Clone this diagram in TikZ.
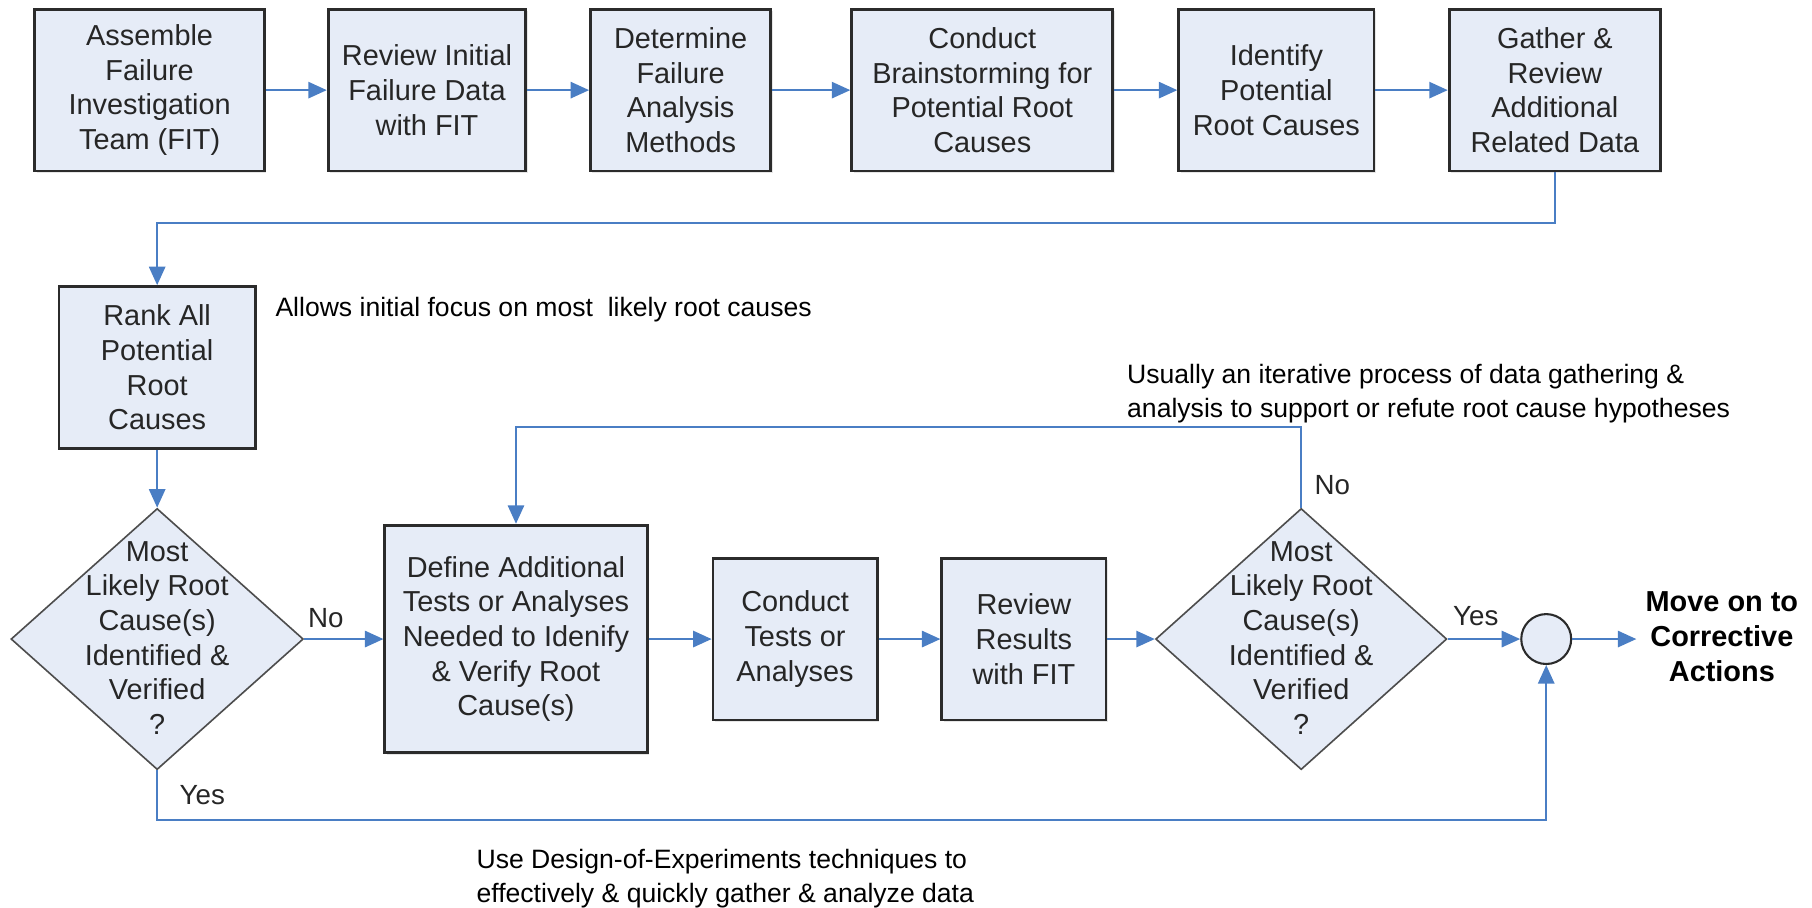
\documentclass[tikz,border=0pt]{standalone}
\usepackage{fontspec}
\setmainfont{Liberation Sans}
\usetikzlibrary{arrows.meta,shapes.geometric,shadows}
\definecolor{boxfill}{HTML}{E6ECF7}
\definecolor{boxline}{HTML}{2B2B2B}
\definecolor{conn}{HTML}{4A7EC4}
\definecolor{dialine}{HTML}{4D4D4D}
\definecolor{txt}{HTML}{262626}
\tikzset{
 procbox/.style={draw=boxline, line width=1.2pt, fill=boxfill, inner sep=0pt, align=center,
   font=\fontsize{12.5}{15}\selectfont, text=txt,
   drop shadow={opacity=0.2, shadow xshift=0.8pt, shadow yshift=-0.8pt}},
 decision/.style={diamond, draw=dialine, line width=0.7pt, fill=boxfill, inner sep=0pt},
 dtext/.style={align=center, font=\fontsize{12.5}{15}\selectfont, text=txt, inner sep=0pt},
 junction/.style={circle, draw=boxline, line width=0.9pt, fill=boxfill, minimum size=21.6pt, inner sep=0pt},
 arr/.style={draw=conn, line width=1pt, -{Triangle[length=8pt,width=7pt]}},
 note/.style={font=\fontsize{11.5}{14.5}\selectfont, align=left, inner sep=0pt},
 lbl/.style={font=\fontsize{12}{14}\selectfont, inner sep=0pt, text=txt},
 endtext/.style={font=\fontsize{12.5}{15}\selectfont\bfseries, align=center, inner sep=0pt},
}
\begin{document}
\begin{tikzpicture}[x=0.5pt,y=-0.5pt]
\useasboundingbox (0,0) rectangle (1568,785);

% top row
\node[procbox, minimum width=99.5pt, minimum height=70pt] (b1) at (129.5,78) {Assemble\\Failure\\Investigation\\Team (FIT)};
\node[procbox, minimum width=85.5pt, minimum height=70pt] (b2) at (369.5,78) {Review Initial\\Failure Data\\with FIT};
\node[procbox, minimum width=78pt, minimum height=70pt] (b3) at (589,78) {Determine\\Failure\\Analysis\\Methods};
\node[procbox, minimum width=113pt, minimum height=70pt] (b4) at (850,78) {Conduct\\Brainstorming for\\Potential Root\\Causes};
\node[procbox, minimum width=84.5pt, minimum height=70pt] (b5) at (1104.5,78) {Identify\\Potential\\Root Causes};
\node[procbox, minimum width=91.5pt, minimum height=70pt] (b6) at (1345.5,78) {Gather \&\\Review\\Additional\\Related Data};

% rank
\node[procbox, minimum width=85pt, minimum height=70pt] (rank) at (136,318) {Rank All\\Potential\\Root\\Causes};
\node[note, anchor=west] (n1) at (238,268) {Allows initial focus on most\ \ likely root causes};

% bottom row
\node[decision, minimum width=126.5pt, minimum height=113pt] (d1) at (136,553) {};
\node[dtext] (d1t) at (136,552) {Most\\Likely Root\\Cause(s)\\Identified \&\\Verified\\?};
\node[procbox, minimum width=113.5pt, minimum height=98.5pt] (def) at (446.5,553) {Define Additional\\Tests or Analyses\\Needed to Idenify\\\& Verify Root\\Cause(s)};
\node[procbox, minimum width=71pt, minimum height=70pt] (cond) at (688,553) {Conduct\\Tests or\\Analyses};
\node[procbox, minimum width=71pt, minimum height=70pt] (rev) at (886,553) {Review\\Results\\with FIT};
\node[decision, minimum width=126pt, minimum height=113pt] (d2) at (1126,553) {};
\node[dtext] (d2t) at (1126,552) {Most\\Likely Root\\Cause(s)\\Identified \&\\Verified\\?};
\node[junction] (jn) at (1338,553) {};
\node[endtext] (mv) at (1490,551) {Move on to\\Corrective\\Actions};
\coordinate (mvin) at (1416,553);

\node[note, anchor=west] (n2) at (975,340.5) {Usually an iterative process of data gathering \&\\analysis to support or refute root cause hypotheses};
\node[note, anchor=west] (n3) at (412,760.5) {Use Design-of-Experiments techniques to\\effectively \& quickly gather \& analyze data};

% connectors
\draw[arr] (b1) -- (b2);
\draw[arr] (b2) -- (b3);
\draw[arr] (b3) -- (b4);
\draw[arr] (b4) -- (b5);
\draw[arr] (b5) -- (b6);
\draw[arr] (b6.south) -- ++(0,44) -| (rank.north);
\draw[arr] (rank.south) -- (d1.north);
\draw[arr] (d1.east) -- (def.west);
\draw[arr] (def.east) -- (cond.west);
\draw[arr] (cond.east) -- (rev.west);
\draw[arr] (rev.east) -- (d2.west);
\draw[arr] (d2.east) -- (jn.west);
\draw[arr] (jn.east) -- (mvin);
\draw[arr] (d2.north) -- ++(0,-70) -| (def.north);
\draw[arr] (d1.south) -- ++(0,43) -| (jn.south);

% labels
\node[lbl] (l1) at (282,535) {No};
\node[lbl] (l2) at (1277,533) {Yes};
\node[lbl] (l3) at (1153,420) {No};
\node[lbl] (l4) at (175,688) {Yes};
\end{tikzpicture}
\end{document}
